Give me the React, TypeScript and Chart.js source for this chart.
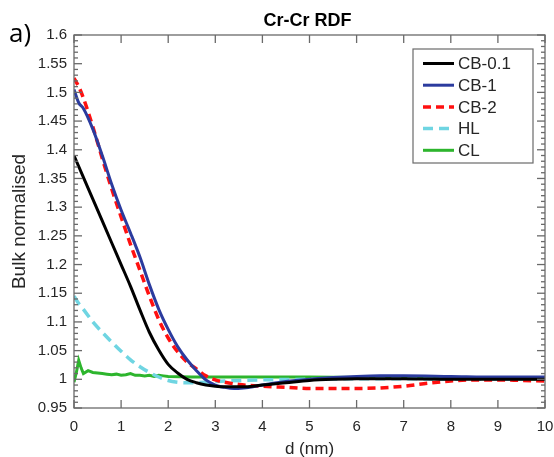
import React, { useEffect, useRef } from "react";
import { Chart, registerables } from "chart.js";

Chart.register(...registerables);

// ---------- data ----------
const seriesLabels = ["CB-0.1", "CB-1", "CB-2", "HL", "CL"];

const cb01D = [0, 0.2, 0.4, 0.6, 0.8, 1.0, 1.2, 1.4, 1.6, 1.8, 2.0, 2.2, 2.4, 2.6, 2.8, 3.0, 3.2, 3.4, 3.6, 3.8, 4.0, 4.5, 5.0, 5.5, 6, 7, 8, 9, 10];
const cb01V = [1.39, 1.352, 1.314, 1.276, 1.238, 1.2, 1.162, 1.121, 1.082, 1.051, 1.026, 1.011, 1.0, 0.994, 0.99, 0.988, 0.987, 0.987, 0.987, 0.988, 0.99, 0.994, 0.998, 1.0, 1.001, 1.001, 1.0, 1.0, 1.0];

const cb1D = [0, 0.1, 0.2, 0.4, 0.6, 0.8, 1.0, 1.2, 1.4, 1.6, 1.8, 2.0, 2.2, 2.4, 2.6, 2.8, 3.0, 3.2, 3.4, 3.6, 3.8, 4.0, 4.5, 5.0, 5.5, 6.0, 6.5, 7, 8, 9, 10];
const cb1V = [1.505, 1.482, 1.472, 1.436, 1.39, 1.34, 1.295, 1.255, 1.213, 1.165, 1.122, 1.087, 1.057, 1.034, 1.015, 0.999, 0.99, 0.986, 0.984, 0.985, 0.987, 0.99, 0.996, 1.0, 1.003, 1.005, 1.006, 1.006, 1.005, 1.004, 1.004];

const cb2D = [0, 0.1, 0.2, 0.4, 0.6, 0.8, 1.0, 1.2, 1.4, 1.6, 1.8, 2.0, 2.2, 2.4, 2.6, 2.8, 3.0, 3.2, 3.5, 4.0, 4.5, 5.0, 5.5, 6.0, 6.5, 7.0, 7.5, 8.0, 8.5, 9.0, 9.5, 10];
const cb2V = [1.525, 1.51, 1.49, 1.44, 1.385, 1.332, 1.283, 1.235, 1.19, 1.145, 1.104, 1.072, 1.048, 1.03, 1.018, 1.006, 0.999, 0.995, 0.991, 0.988, 0.986, 0.984, 0.984, 0.984, 0.985, 0.988, 0.993, 0.997, 0.999, 0.999, 0.998, 0.997];

const hlD = [0, 0.1, 0.2, 0.4, 0.6, 0.8, 1.0, 1.2, 1.4, 1.6, 1.8, 2.0, 2.2, 2.4, 2.8, 3.2, 4, 5, 6, 7, 8, 9, 10];
const hlV = [1.145, 1.132, 1.122, 1.1, 1.082, 1.065, 1.049, 1.034, 1.022, 1.012, 1.004, 0.998, 0.995, 0.994, 0.995, 0.997, 0.999, 1.0, 1.001, 1.001, 1.0, 1.0, 1.0];

const clD = [0, 0.05, 0.1, 0.15, 0.2, 0.3, 0.4, 0.5, 0.6, 0.7, 0.8, 0.9, 1.0, 1.1, 1.2, 1.3, 1.4, 1.5, 1.6, 1.7, 1.8, 1.9, 2.0, 2.5, 3.0, 4, 5, 6, 7, 8, 9, 10];
const clV = [0.995, 1.012, 1.033, 1.02, 1.01, 1.015, 1.012, 1.011, 1.01, 1.009, 1.008, 1.009, 1.007, 1.008, 1.01, 1.007, 1.007, 1.006, 1.007, 1.005, 1.007, 1.006, 1.005, 1.004, 1.004, 1.004, 1.004, 1.003, 1.003, 1.002, 1.001, 1.0];

const xTickValues = [0, 1, 2, 3, 4, 5, 6, 7, 8, 9, 10];
const yMin = 0.95;
const yMax = 1.6;
const yStep = 0.05;
const yMinorStep = 0.01;

const chartTitle = "Cr-Cr RDF";
const panelLabel = "a)";
const xTitle = "d (nm)";
const yTitle = "Bulk normalised";

// ---------- styles ----------
const FONT = "'Liberation Sans', Arial, Helvetica, sans-serif";
const AXIS_COLOR = "#6a6a6a";
const TEXT_COLOR = "#262626";

const styles = [
  { color: "#000000", dash: [] as number[], width: 3, tension: 0.3 },
  { color: "#2b3b9e", dash: [] as number[], width: 3, tension: 0.3 },
  { color: "#ff1010", dash: [8, 5], width: 3.5, tension: 0.3 },
  { color: "#6fd5e2", dash: [10, 6], width: 3.5, tension: 0.3 },
  { color: "#2db52d", dash: [] as number[], width: 3, tension: 0 },
];

const toPts = (d: number[], v: number[]) => d.map((x, i) => ({ x, y: v[i] }));

const framePlugin = {
  id: "frame",
  afterDraw(chart: any) {
    const { ctx, chartArea } = chart;
    const { left, right, top, bottom } = chartArea;
    const xs = chart.scales.x;
    const ys = chart.scales.y;
    ctx.save();
    ctx.strokeStyle = AXIS_COLOR;
    ctx.lineWidth = 1.3;
    ctx.setLineDash([]);
    ctx.strokeRect(left, top, right - left, bottom - top);
    const line = (x1: number, y1: number, x2: number, y2: number) => {
      ctx.beginPath();
      ctx.moveTo(x1, y1);
      ctx.lineTo(x2, y2);
      ctx.stroke();
    };
    for (const t of xTickValues) {
      const px = xs.getPixelForValue(t);
      line(px, bottom, px, bottom - 8);
      line(px, top, px, top + 8);
    }
    const nMinor = Math.round((yMax - yMin) / yMinorStep);
    const ratio = Math.round(yStep / yMinorStep);
    for (let i = 0; i <= nMinor; i++) {
      const py = ys.getPixelForValue(yMin + i * yMinorStep);
      const len = i % ratio === 0 ? 8 : 4;
      line(left, py, left + len, py);
      line(right, py, right - len, py);
    }

    // title
    ctx.fillStyle = "#000";
    ctx.font = `bold 18px ${FONT}`;
    ctx.textAlign = "center";
    ctx.textBaseline = "middle";
    ctx.fillText(chartTitle, (left + right) / 2 - 2, 21);

    // panel label
    ctx.font = `26px 'Open Sans', 'DejaVu Sans', sans-serif`;
    ctx.textAlign = "left";
    ctx.fillText(panelLabel, 9, 35);

    // legend
    const lx = 413, ly = 49, lw = 120, lh = 114;
    ctx.fillStyle = "#fff";
    ctx.fillRect(lx, ly, lw, lh);
    ctx.strokeStyle = AXIS_COLOR;
    ctx.lineWidth = 1.2;
    ctx.strokeRect(lx, ly, lw, lh);
    chart.data.datasets.forEach((ds: any, i: number) => {
      const yy = ly + 14.5 + i * 21.7;
      ctx.strokeStyle = ds.borderColor;
      ctx.lineWidth = ds.borderWidth;
      ctx.setLineDash(ds.borderDash || []);
      line(lx + 10, yy, lx + 41, yy);
      ctx.setLineDash([]);
      ctx.fillStyle = TEXT_COLOR;
      ctx.font = `17px ${FONT}`;
      ctx.textAlign = "left";
      ctx.textBaseline = "middle";
      ctx.fillText(ds.label, lx + 45, yy + 1);
    });
    ctx.restore();
  },
};

export default function App() {
  const ref = useRef<HTMLCanvasElement | null>(null);
  useEffect(() => {
    if (!ref.current) return;
    const series = [
      toPts(cb01D, cb01V),
      toPts(cb1D, cb1V),
      toPts(cb2D, cb2V),
      toPts(hlD, hlV),
      toPts(clD, clV),
    ];
    const chart = new Chart(ref.current, {
      type: "line",
      data: {
        datasets: series.map((data, i) => ({
          label: seriesLabels[i],
          data,
          borderColor: styles[i].color,
          backgroundColor: styles[i].color,
          borderWidth: styles[i].width,
          borderDash: styles[i].dash,
          pointRadius: 0,
          tension: styles[i].tension,
          cubicInterpolationMode: i === 4 ? "default" : "monotone",
          fill: false,
        })),
      },
      options: {
        animation: false,
        responsive: true,
        maintainAspectRatio: false,
        layout: { padding: { top: 35, right: 9, left: 0, bottom: 0 } },
        plugins: { legend: { display: false }, title: { display: false }, tooltip: { enabled: false } },
        scales: {
          x: {
            type: "linear",
            min: 0,
            max: 10,
            grid: { display: false, drawTicks: false },
            border: { display: false },
            ticks: { stepSize: 1, padding: 10, color: TEXT_COLOR, font: { family: FONT, size: 15 }, maxRotation: 0 },
            title: { display: true, text: xTitle, color: TEXT_COLOR, font: { family: FONT, size: 17 }, padding: { top: 0, bottom: -3 } },
            afterFit: (s: any) => {
              s.height = 49;
              s.paddingLeft = 0;
              s.paddingRight = 0;
            },
          },
          y: {
            type: "linear",
            min: yMin,
            max: yMax,
            grid: { display: false, drawTicks: false },
            border: { display: false },
            ticks: {
              stepSize: yStep,
              padding: 7,
              color: TEXT_COLOR,
              font: { family: FONT, size: 15 },
              callback: (v: any) => String(Number(Number(v).toFixed(2))),
            },
            title: { display: true, text: yTitle, color: TEXT_COLOR, font: { family: FONT, size: 19 }, padding: { top: 8, bottom: 0 } },
            afterFit: (s: any) => {
              s.width = 74;
              s.paddingTop = 0;
              s.paddingBottom = 0;
            },
          },
        },
      },
      plugins: [framePlugin],
    } as any);
    return () => chart.destroy();
  }, []);
  return (
    <div style={{ position: "fixed", left: 0, top: 0, width: 554, height: 457, background: "#fff" }}>
      <canvas ref={ref} />
    </div>
  );
}
